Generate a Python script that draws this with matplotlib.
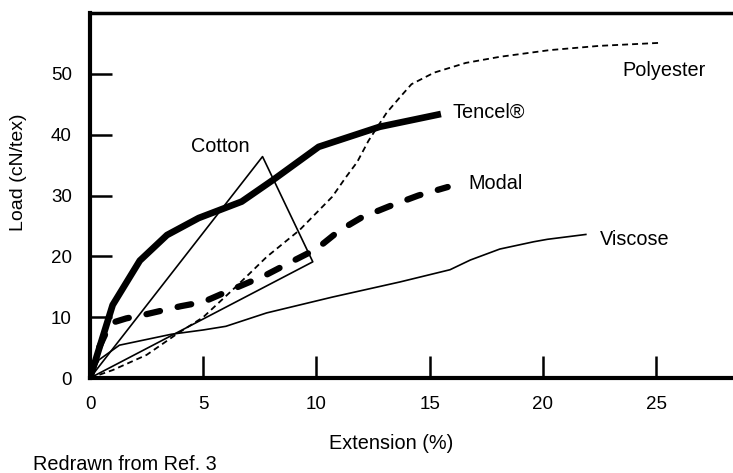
import numpy as np
import matplotlib
matplotlib.use('Agg')
import matplotlib.pyplot as plt

plt.rcParams['font.family'] = ['Liberation Sans', 'DejaVu Sans']
plt.rcParams['lines.scale_dashes'] = False

# --- Data ---
tencel_x = [0, 0.5, 1.0, 2.2, 3.4, 4.8, 6.7, 8.1, 10.1, 12.8, 15.5]
tencel_y = [0, 6, 12, 19.3, 23.5, 26.3, 29, 32.6, 38, 41.3, 43.4]

modal_x = [0, 0.4, 0.9, 1.6, 2.5, 4.0, 5.0, 6.3, 7.7, 9.1, 10.0, 11.0, 12.0, 13.2, 14.5, 15.8]
modal_y = [0, 5, 9, 9.8, 10.5, 11.8, 12.5, 14.6, 16.8, 19.5, 21.2, 24.2, 26.4, 28.2, 30, 31.4]

poly_x = [0, 1.0, 2.5, 3.9, 5.0, 6.3, 7.0, 7.8, 9.25, 10.7, 11.3, 11.8, 12.3, 13.1,
          13.7, 14.2, 15.2, 16.6, 18.1, 20.3, 22.5, 25.2]
poly_y = [0, 1.3, 3.8, 7.4, 10, 14.5, 17, 19.9, 24.3, 29.8, 33, 35.5, 39, 43.6,
          46.2, 48.3, 50.2, 51.8, 52.8, 53.9, 54.6, 55.1]

visc_x = [0, 0.4, 1.3, 3.6, 5.0, 6.0, 7.8, 10.7, 13.7, 15.9, 16.8, 18.1, 19.6, 20.2, 21.9]
visc_y = [0, 3, 5.4, 7.2, 7.9, 8.5, 10.7, 13.3, 15.8, 17.8, 19.4, 21.2, 22.4, 22.8, 23.6]

cotton_x = [0, 7.62, 9.84, 0]
cotton_y = [0, 36.4, 19.1, 0]

x_ticks = [5, 10, 15, 20, 25]
y_ticks = [10, 20, 30, 40, 50]

fig = plt.figure(figsize=(7.33, 4.73), dpi=100)
ax = fig.add_axes([0.1228, 0.2008, 1 - 0.1228, 0.7717])

ax.plot(cotton_x, cotton_y, 'k-', lw=1.2)
ax.plot(visc_x, visc_y, 'k-', lw=1.2)
ax.plot(poly_x, poly_y, 'k', lw=1.3, dashes=(4.3, 2.9))
ax.plot(modal_x, modal_y, 'k', lw=4.5, dashes=(10, 13), dash_capstyle='round')
ax.plot(tencel_x, tencel_y, 'k-', lw=4.8, solid_capstyle='butt')

fs = 14.3
ax.text(4.45, 38, 'Cotton', fontsize=fs, va='center')
ax.text(16.0, 43.7, 'Tencel®', fontsize=fs, va='center')
ax.text(16.7, 31.9, 'Modal', fontsize=fs, va='center')
ax.text(22.5, 22.7, 'Viscose', fontsize=fs, va='center')
ax.text(23.5, 50.6, 'Polyester', fontsize=fs, va='center')

ax.set_xlim(0, 28.4)
ax.set_ylim(0, 60)
ax.set_xticks([0] + x_ticks)
ax.set_yticks([0] + y_ticks)
ax.tick_params(direction='in', length=16, width=1.8, pad=13, labelsize=13.5)

ax.spines['right'].set_visible(False)
for s in ['left', 'bottom']:
    ax.spines[s].set_linewidth(3)
ax.spines['top'].set_linewidth(2.5)

fig.text(0.025, 0.636, 'Load (cN/tex)', rotation=90, fontsize=14, ha='center', va='center')
fig.text(0.533, 0.0634, 'Extension (%)', fontsize=14.3, ha='center', va='center')
fig.text(0.045, 0.019, 'Redrawn from Ref. 3', fontsize=14.3, ha='left', va='center')

fig.savefig('out.png', dpi=100)
